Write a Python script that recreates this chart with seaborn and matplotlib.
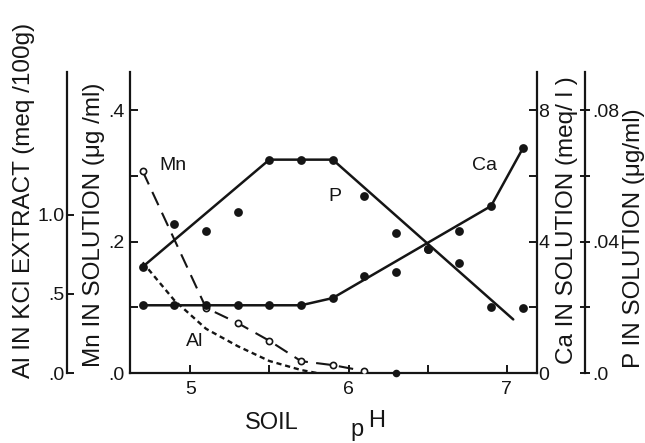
import numpy as np
import pandas as pd
import matplotlib
matplotlib.use("Agg")
import matplotlib.pyplot as plt
import seaborn as sns

# soil pH sampling points
ph = [4.7, 4.9, 5.1, 5.3, 5.5, 5.7, 5.9, 6.1, 6.3, 6.5, 6.7, 6.9, 7.1]

# P in solution (ug/ml) and the fitted broken line
p_vals = [0.0323, 0.0452, 0.0431, 0.0489, 0.0649, 0.0649, 0.0649,
          0.0538, 0.0425, 0.0378, 0.0335, 0.0200, 0.0197]
p_line_ph = [4.7, 5.5, 5.9, 7.04]
p_line_vals = [0.0323, 0.0649, 0.0649, 0.0163]

# Ca in solution (meq/l) and its line
ca_vals = [2.06, 2.06, 2.06, 2.06, 2.06, 2.06, 2.28,
           2.95, 3.08, 3.78, 4.31, 5.08, 6.83]
ca_line_ph = [4.7, 5.7, 5.9, 6.9, 7.1]
ca_line_vals = [2.06, 2.06, 2.28, 5.08, 6.83]

# Mn in solution (ug/ml)
mn_ph = [4.7, 5.1, 5.3, 5.5, 5.7, 5.9, 6.1]
mn_vals = [0.307, 0.099, 0.076, 0.049, 0.018, 0.012, 0.003]
mn_zero_ph = [6.3]
mn_zero_vals = [0.0]

# Al in KCl extract (meq/100g)
al_ph = [4.7, 4.9, 5.1, 5.3, 5.5, 5.7, 5.8]
al_vals = [0.70, 0.46, 0.28, 0.17, 0.076, 0.019, 0.0]

sns.set_style("ticks")
plt.rcParams["font.family"] = ["Liberation Sans", "DejaVu Sans"]
plt.rcParams["axes.linewidth"] = 1.6

INK = "#151515"

fig = plt.figure(figsize=(6.45, 4.43), dpi=100)
ax = fig.add_axes([130 / 645, 1 - 373 / 443, 407 / 645, 301 / 443])
ax_ca = ax.twinx()
ax_p = ax.twinx()
ax_al = ax.twinx()

# Mn (left main axis)
sns.lineplot(x=mn_ph, y=mn_vals, ax=ax, color=INK, lw=1.5, sort=False,
             estimator=None, dashes=False, linestyle=(0, (7, 4)))
sns.scatterplot(x=mn_ph, y=mn_vals, ax=ax, marker="o", s=20,
                facecolor="white", edgecolor=INK, linewidth=1.2, zorder=5)
sns.scatterplot(x=mn_zero_ph, y=mn_zero_vals, ax=ax, marker="o", s=30,
                color=INK, linewidth=0, zorder=5, clip_on=False)

# Ca
sns.lineplot(x=ca_line_ph, y=ca_line_vals, ax=ax_ca, color=INK, lw=1.8,
             sort=False, estimator=None)
sns.scatterplot(x=ph, y=ca_vals, ax=ax_ca, marker="o", s=40, color=INK,
                linewidth=0, zorder=5)

# P
sns.lineplot(x=p_line_ph, y=p_line_vals, ax=ax_p, color=INK, lw=1.8,
             sort=False, estimator=None)
sns.scatterplot(x=ph, y=p_vals, ax=ax_p, marker="o", s=40, color=INK,
                linewidth=0, zorder=5)

# Al
sns.lineplot(x=al_ph, y=al_vals, ax=ax_al, color=INK, lw=1.7, sort=False,
             estimator=None, linestyle=(0, (2.2, 1.6)))

# limits
ax.set_xlim(4.62, 7.19)
ax.set_ylim(0, 0.4578)
ax_ca.set_ylim(0, 9.156)
ax_p.set_ylim(0, 0.09156)
ax_al.set_ylim(0, 1.905)

for a in (ax, ax_ca, ax_p, ax_al):
    a.set_xlabel("")
    a.set_ylabel("")
    for s in a.spines.values():
        s.set_visible(False)
        s.set_color(INK)

tick_font = 14

# x axis
ax.spines["bottom"].set_visible(True)
ax.set_xticks([5, 6, 7])
ax.set_xticklabels(["5", "6", "7"])
ax.set_xticks([5.5, 6.5], minor=True)
ax.tick_params(axis="x", which="both", direction="in", length=6, width=1.4,
               pad=6, labelsize=tick_font, colors=INK)

# Mn axis
ax.spines["left"].set_visible(True)
ax.set_yticks([0, 0.2, 0.4])
ax.set_yticklabels([".0", ".2", ".4"])
ax.set_yticks([0.1, 0.3], minor=True)
ax.tick_params(axis="y", which="both", direction="in", length=6, width=1.4,
               pad=4, labelsize=tick_font, colors=INK)

# Ca axis
ax_ca.spines["right"].set_visible(True)
ax_ca.set_yticks([0, 4, 8])
ax_ca.set_yticklabels(["0", "4", "8"])
ax_ca.set_yticks([2, 6], minor=True)
ax_ca.tick_params(axis="y", which="both", direction="in", length=6,
                  width=1.4, pad=1, labelsize=tick_font, colors=INK)

# P axis
ax_p.spines["right"].set_visible(True)
ax_p.spines["right"].set_position(("axes", 1.118))
ax_p.set_yticks([0, 0.04, 0.08])
ax_p.set_yticklabels([".0", ".04", ".08"])
ax_p.set_yticks([0.02, 0.06], minor=True)
ax_p.tick_params(axis="y", which="both", direction="inout", length=7,
                 width=1.4, pad=2, labelsize=tick_font, colors=INK)

# Al axis (far left)
ax_al.spines["left"].set_visible(True)
ax_al.spines["left"].set_position(("axes", -0.155))
ax_al.yaxis.set_ticks_position("left")
ax_al.yaxis.set_label_position("left")
ax_al.set_yticks([0, 0.5, 1.0])
ax_al.set_yticklabels([".0", ".5", "1.0"])
ax_al.tick_params(axis="y", which="both", direction="in", length=5,
                  width=1.4, pad=2, labelsize=tick_font, colors=INK)

# series labels
lab_font = 14
ax.text(0.106, 0.688, "Mn", transform=ax.transAxes, ha="center",
        va="center", fontsize=lab_font, color=INK)
ax.text(0.504, 0.585, "P", transform=ax.transAxes, ha="center",
        va="center", fontsize=lab_font, color=INK)
ax.text(0.872, 0.688, "Ca", transform=ax.transAxes, ha="center",
        va="center", fontsize=lab_font, color=INK)
ax.text(0.160, 0.103, "Al", transform=ax.transAxes, ha="center",
        va="center", fontsize=lab_font, color=INK)

# axis titles
yl_font = 17.5
fig.text(24 / 645, 1 - 200 / 443, "Al IN KCl EXTRACT (meq /100g)",
         rotation=90, ha="center", va="center", fontsize=yl_font, color=INK)
fig.text(94 / 645, 1 - 225 / 443, "Mn IN SOLUTION (μg /ml)",
         rotation=90, ha="center", va="center", fontsize=yl_font, color=INK)
fig.text(567 / 645, 1 - 220 / 443, "Ca IN SOLUTION (meq/ l )",
         rotation=90, ha="center", va="center", fontsize=yl_font, color=INK)
fig.text(634 / 645, 1 - 238 / 443, "P IN SOLUTION (μg/ml)",
         rotation=90, ha="center", va="center", fontsize=yl_font, color=INK)

fig.text(272 / 645, 1 - 423 / 443, "SOIL", ha="center", va="center",
         fontsize=17, color=INK)
fig.text(357 / 645, 1 - 430 / 443, "p", ha="center", va="center",
         fontsize=17, color=INK)
fig.text(377 / 645, 1 - 421 / 443, "H", ha="center", va="center",
         fontsize=17, color=INK)

fig.savefig("out.png", dpi=100, facecolor="white")
